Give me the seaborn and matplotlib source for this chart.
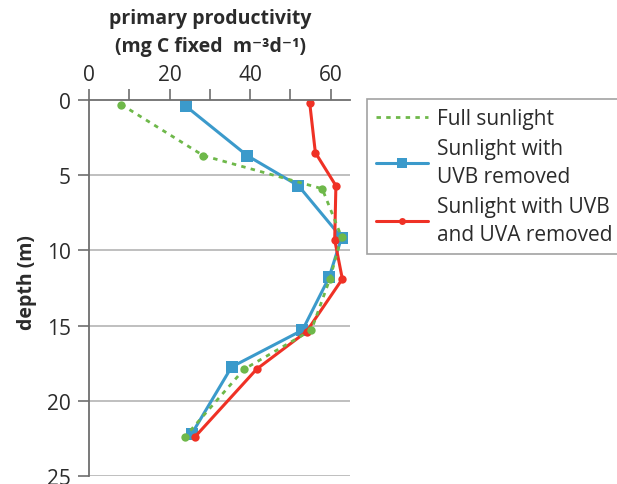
import matplotlib
matplotlib.use("Agg")
import matplotlib.pyplot as plt
from matplotlib.lines import Line2D
import seaborn as sns
import pandas as pd

# Depth profiles of primary productivity under three light treatments
depth_full = [0.3, 3.7, 5.9, 9.1, 11.9, 15.3, 17.9, 22.4]
prod_full = [8.0, 28.4, 57.9, 62.7, 59.8, 55.2, 38.5, 23.8]

depth_uvb = [0.4, 3.7, 5.7, 9.15, 11.8, 15.3, 17.75, 22.2]
prod_uvb = [24.0, 39.3, 52.0, 62.7, 59.6, 53.0, 35.4, 25.5]

depth_uvab = [0.2, 3.5, 5.7, 9.3, 11.9, 15.4, 17.9, 22.4]
prod_uvab = [54.8, 56.2, 61.3, 61.0, 62.9, 54.0, 41.6, 26.3]

labels = ["Full sunlight", "Sunlight with\nUVB removed", "Sunlight with UVB\nand UVA removed"]
x_ticks = [0, 20, 40, 60]
y_ticks = [0, 5, 10, 15, 20, 25]

GREEN = "#6eb84a"
BLUE = "#3b9acb"
RED = "#ef3125"
AXIS = "#6e6e6e"
GRID = "#b4b4b4"
TEXT = "#2b2b2b"
DASH = (0, (1.6, 1.9))

sns.set_theme(style="white")
plt.rcParams["font.family"] = ["Open Sans", "DejaVu Sans"]

fig = plt.figure(figsize=(6.17, 4.85), dpi=100)
ax = fig.add_axes([89 / 617, 1 - 477 / 485, 261 / 617, 376 / 485])

df_full = pd.DataFrame({"prod": prod_full, "depth": depth_full})
df_uvb = pd.DataFrame({"prod": prod_uvb, "depth": depth_uvb})
df_uvab = pd.DataFrame({"prod": prod_uvab, "depth": depth_uvab})

# horizontal grid lines
for d in y_ticks[1:]:
    ax.axhline(d, color=GRID, lw=1.2, zorder=0)

sns.lineplot(data=df_full, x="prod", y="depth", sort=False, ax=ax, color=GREEN,
             lw=2.0, dashes=False, linestyle=DASH, marker="o", markersize=6,
             markeredgewidth=0, zorder=3)
sns.lineplot(data=df_uvb, x="prod", y="depth", sort=False, ax=ax, color=BLUE,
             lw=2.2, marker="s", markersize=8.5, markeredgewidth=0, zorder=2)
sns.lineplot(data=df_uvab, x="prod", y="depth", sort=False, ax=ax, color=RED,
             lw=2.2, marker="o", markersize=6, markeredgewidth=0, zorder=2)

ax.set_xlim(0, 64.8)
ax.set_ylim(25, 0)
ax.xaxis.tick_top()
ax.set_xticks(x_ticks)
ax.set_xticks([10, 30, 50], minor=True)
ax.set_yticks(y_ticks)
ax.set_xlabel("")
ax.set_ylabel("depth (m)", fontsize=14, fontweight="bold", color=TEXT)
ax.yaxis.set_label_coords(-0.199, 0.516)

for s in ["right", "bottom"]:
    ax.spines[s].set_visible(False)
for s in ["top", "left"]:
    ax.spines[s].set_color(AXIS)
    ax.spines[s].set_linewidth(1.3)

ax.tick_params(axis="x", which="both", top=True, bottom=False, direction="out",
               length=8, width=1.2, color=AXIS, labelsize=15, labelcolor=TEXT, pad=3)
ax.tick_params(axis="y", which="both", left=True, direction="out", length=8,
               width=1.2, color=AXIS, labelsize=15, labelcolor=TEXT, pad=5)

fig.text(210 / 617, 1 - 19 / 485, "primary productivity", ha="center", va="center",
         fontsize=14, fontweight="bold", color=TEXT)
fig.text(210 / 617, 1 - 47 / 485, "(mg C fixed  m\u207b\u00b3d\u207b\u00b9)", ha="center",
         va="center", fontsize=14, fontweight="bold", color=TEXT,
         family=["Open Sans", "DejaVu Sans"])

handles = [
    Line2D([], [], color=GREEN, lw=2.0, linestyle=DASH),
    Line2D([], [], color=BLUE, lw=2.2, marker="s", markersize=7, markeredgewidth=0),
    Line2D([], [], color=RED, lw=2.2, marker="o", markersize=5, markeredgewidth=0),
]
leg = fig.legend(handles, labels, loc="upper left", bbox_to_anchor=(367 / 617, 1 - 100 / 485),
                 frameon=True, fontsize=15, handlelength=2.5, handletextpad=0.43,
                 borderpad=0.45, labelspacing=0.4, fancybox=False, borderaxespad=0)
leg.get_frame().set_edgecolor("#8a8a8a")
leg.get_frame().set_linewidth(1.2)
for t in leg.get_texts():
    t.set_color(TEXT)
    t.set_linespacing(1.47)

fig.savefig("out.png", dpi=100)
